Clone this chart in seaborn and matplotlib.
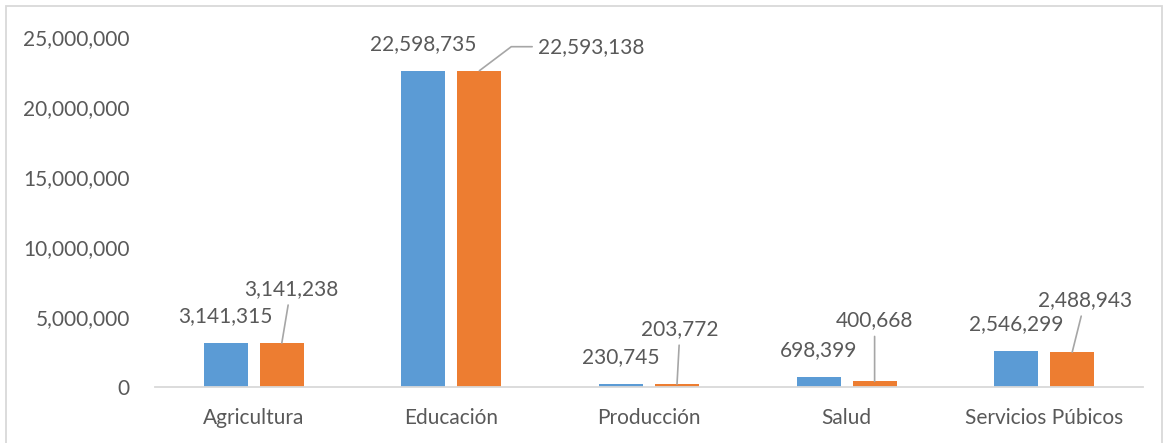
import matplotlib
matplotlib.use("Agg")
import matplotlib.pyplot as plt
from matplotlib.patches import Rectangle
import seaborn as sns
import pandas as pd

# Data
categories = ["Agricultura", "Educación", "Producción", "Salud", "Servicios Púbicos"]
series_names = ["Serie 1", "Serie 2"]
values_s1 = [3141315, 22598735, 230745, 698399, 2546299]
values_s2 = [3141238, 22593138, 203772, 400668, 2488943]
y_ticks = [0, 5000000, 10000000, 15000000, 20000000, 25000000]

# label offsets (pixels) for the second series, with leader lines
s2_label_offsets = [(9, 54), (112, 24), (3, 55), (0, 61), (13, 52)]

df = pd.DataFrame({
    "categoria": categories * 2,
    "serie": [series_names[0]] * len(categories) + [series_names[1]] * len(categories),
    "valor": values_s1 + values_s2,
})

sns.set_theme(style="white")
plt.rcParams["font.family"] = ["Lato", "DejaVu Sans"]

TXT = "#595959"
GRID = "#D9D9D9"
palette = {series_names[0]: "#5B9BD5", series_names[1]: "#ED7D31"}

fig = plt.figure(figsize=(11.74, 4.43), dpi=100)
ax = fig.add_axes([155 / 1174, 56 / 443, 988 / 1174, 350 / 443])

sns.barplot(data=df, x="categoria", y="valor", hue="serie", palette=palette,
            width=0.567, gap=0.214, ax=ax, legend=False, saturation=1,
            linewidth=0, edgecolor="none")

ax.set_ylim(0, 25000000)
ax.set_xlim(-0.5, len(categories) - 0.5)
ax.set_yticks(y_ticks)
ax.set_yticklabels([f"{v:,}" for v in y_ticks])
ax.set_xlabel("")
ax.set_ylabel("")
ax.tick_params(axis="y", length=0, pad=18, labelsize=15, labelcolor=TXT)
ax.tick_params(axis="x", length=0, pad=15, labelsize=15, labelcolor=TXT)
for s in ["top", "right", "left"]:
    ax.spines[s].set_visible(False)
ax.spines["bottom"].set_color(GRID)
ax.spines["bottom"].set_linewidth(1.3)

bars1, bars2 = ax.containers[0], ax.containers[1]

# first series: labels centered above bars
for bar, v in zip(bars1, values_s1):
    ax.annotate(f"{v:,}", xy=(bar.get_x() + bar.get_width() / 2, v),
                xytext=(0, 27), textcoords="offset pixels",
                ha="center", va="center", fontsize=15, color=TXT)

# second series: labels moved off the bars with leader lines
for i, (bar, v) in enumerate(zip(bars2, values_s2)):
    dx, dy = s2_label_offsets[i]
    if i == 1:
        conn = "angle,angleA=0,angleB=37,rad=0"
    else:
        conn = "arc3"
    ax.annotate(f"{v:,}", xy=(bar.get_x() + bar.get_width() / 2, v),
                xytext=(dx, dy), textcoords="offset pixels",
                ha="center", va="center", fontsize=15, color=TXT,
                arrowprops=dict(arrowstyle="-", color="#A6A6A6", lw=1.2,
                                shrinkA=2, shrinkB=0, connectionstyle=conn))

# chart border
fig.patches.append(Rectangle((6 / 1174, -0.05), 1156 / 1174, 0.05 + 437 / 443,
                             transform=fig.transFigure, fill=False,
                             edgecolor=GRID, linewidth=1.3))

fig.savefig("out.png", dpi=100, facecolor="white")
